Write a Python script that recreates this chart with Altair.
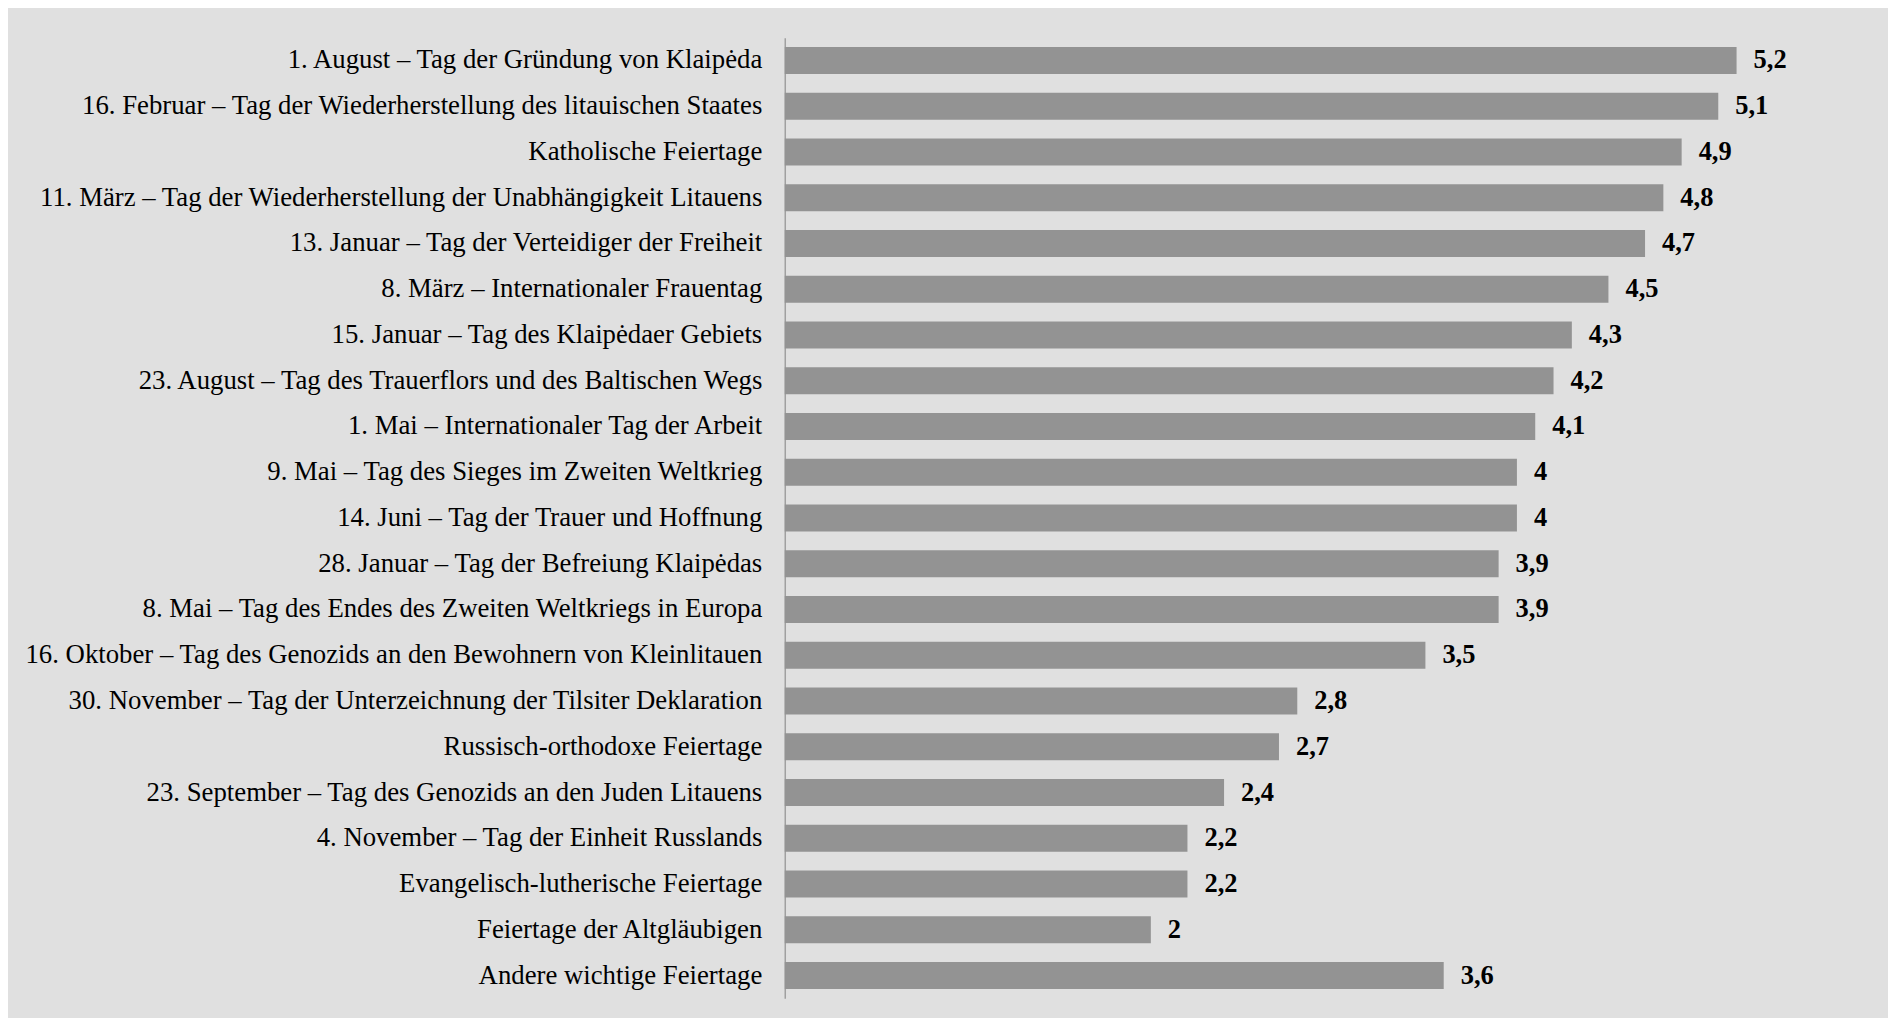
import altair as alt
import pandas as pd

categories = [
    "1. August – Tag der Gründung von Klaipėda",
    "16. Februar – Tag der Wiederherstellung des litauischen Staates",
    "Katholische Feiertage",
    "11. März – Tag der Wiederherstellung der Unabhängigkeit Litauens",
    "13. Januar – Tag der Verteidiger der Freiheit",
    "8. März – Internationaler Frauentag",
    "15. Januar – Tag des Klaipėdaer Gebiets",
    "23. August – Tag des Trauerflors und des Baltischen Wegs",
    "1. Mai – Internationaler Tag der Arbeit",
    "9. Mai – Tag des Sieges im Zweiten Weltkrieg",
    "14. Juni – Tag der Trauer und Hoffnung",
    "28. Januar – Tag der Befreiung Klaipėdas",
    "8. Mai – Tag des Endes des Zweiten Weltkriegs in Europa",
    "16. Oktober – Tag des Genozids an den Bewohnern von Kleinlitauen",
    "30. November – Tag der Unterzeichnung der Tilsiter Deklaration",
    "Russisch-orthodoxe Feiertage",
    "23. September – Tag des Genozids an den Juden Litauens",
    "4. November – Tag der Einheit Russlands",
    "Evangelisch-lutherische Feiertage",
    "Feiertage der Altgläubigen",
    "Andere wichtige Feiertage",
]
values = [5.2, 5.1, 4.9, 4.8, 4.7, 4.5, 4.3, 4.2, 4.1, 4.0, 4.0, 3.9, 3.9,
          3.5, 2.8, 2.7, 2.4, 2.2, 2.2, 2.0, 3.6]

df = pd.DataFrame({
    "cat": categories,
    "val": values,
    "label": [f"{v:g}".replace(".", ",") for v in values],
})

FONT = "Liberation Serif"

y_enc = alt.Y(
    "cat:N",
    sort=categories,
    scale=alt.Scale(paddingInner=0.41, paddingOuter=0.2),
    axis=alt.Axis(
        title=None, ticks=False, grid=False, domain=True,
        domainColor="#a0a0a0", domainWidth=1.5,
        labelFont=FONT, labelFontSize=26.8, labelColor="#000000",
        labelPadding=23, labelLimit=0,
    ),
)
x_enc = alt.X("val:Q", scale=alt.Scale(domain=[0, 6], nice=False, zero=True), axis=None)

bars = alt.Chart(df).mark_bar(color="#939393").encode(y=y_enc, x=x_enc)
text = alt.Chart(df).mark_text(
    align="left", baseline="middle", dx=17, font=FONT, fontSize=26.5,
    fontWeight="bold", color="#000000",
).encode(y=alt.Y("cat:N", sort=categories), x="val:Q", text="label:N")

chart = (
    alt.layer(bars, text)
    .properties(
        width=1100, height=962,
        autosize=alt.AutoSizeParams(type="none"),
        padding={"left": 778, "top": 29, "right": 5, "bottom": 19},
        background="#e0e0e0",
    )
    .configure_view(stroke=None)
)

chart.save("out.html", embed_options={"renderer": "svg", "actions": False})
